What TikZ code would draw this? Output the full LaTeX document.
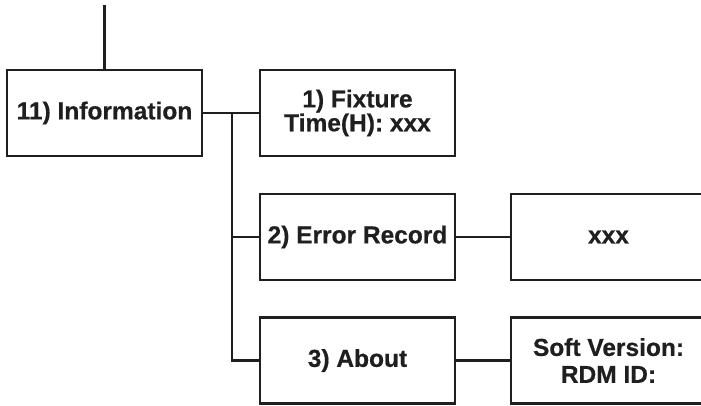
\documentclass[tikz,border=0pt]{standalone}
\usepackage{fontspec}
\setmainfont{Liberation Sans}[BoldFeatures={FakeBold=0.6}]
\begin{document}
\begin{tikzpicture}[x=1pt,y=-1pt,
  ink/.style={draw=black!88, line width=2.4pt},
  menubox/.style={ink, minimum width=195pt, minimum height=86pt, inner sep=0pt,
    align=center, text=black!88, font=\fontsize{24.5}{22}\selectfont\bfseries},
  link/.style={ink}]
  \useasboundingbox (0,0) rectangle (701,405);
  \clip (0,0) rectangle (701,405);
  % menu boxes
  \node[menubox] (info) at (104.5,113) {11) Information};
  \node[menubox] (fix) at (357.5,113) {1) Fixture\\Time(H): xxx};
  \node[menubox] (err) at (357.5,237) {2) Error Record};
  \node[menubox] (about) at (357.5,360.5) {3) About};
  \node[menubox] (val) at (608.5,237) {xxx};
  \node[menubox, font=\fontsize{24.5}{27}\selectfont\bfseries] (ver) at (608.5,360.5) {Soft Version:\\RDM ID:};
  % connectors
  \coordinate (top) at (104.5,5);
  \coordinate (br) at (232,113);
  \draw[link] (top) -- (info.north);
  \draw[link] (info.east) -- (fix.west);
  \draw[link] (br) |- (err.west);
  \draw[link] (br) |- (about.west);
  \draw[link] (err.east) -- (val.west);
  \draw[link] (about.east) -- (ver.west);
\end{tikzpicture}
\end{document}
